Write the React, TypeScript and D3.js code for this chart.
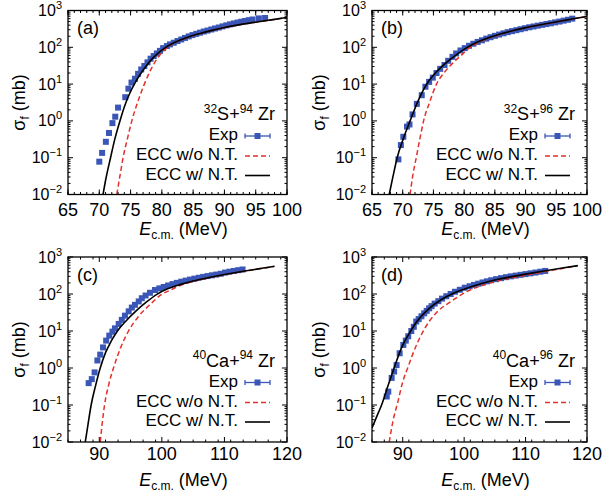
import React from "react";
import * as d3 from "d3";

type Pt = [number, number];

// measured fusion cross sections, [E c.m. (MeV), sigma (mb)]
const expA: Pt[] = [
  [70.0, 0.078], [70.45, 0.135], [71.05, 0.27], [71.55, 0.47], [72.1, 0.87], [72.55, 1.3],
  [73.0, 2.3], [74.15, 4.4], [74.65, 7.5], [75.15, 11], [75.7, 14], [76.2, 19], [76.7, 25],
  [77.2, 31], [77.7, 39], [78.2, 49], [78.7, 58], [79.2, 68], [79.7, 80], [80.2, 95],
  [80.8, 108], [81.3, 120], [81.9, 133], [82.5, 148], [83.1, 163], [83.7, 180], [84.3, 198],
  [84.9, 215], [85.5, 232], [86.1, 250], [86.7, 268], [87.3, 285], [87.9, 305], [88.5, 325],
  [89.1, 345], [89.7, 370], [90.3, 395], [90.9, 420], [91.5, 445], [92.1, 470], [92.7, 495],
  [93.3, 520], [93.9, 545], [94.5, 570], [95.5, 610], [96.5, 625],
];
const expB: Pt[] = [
  [69.3, 0.09], [69.7, 0.22], [70.1, 0.37], [70.7, 0.7], [71.1, 0.8], [71.6, 1.5], [72.3, 2.9],
  [73.1, 5], [73.7, 8.5], [74.3, 11.5], [74.9, 15], [75.5, 20], [76.1, 26], [76.8, 33],
  [77.4, 43], [78.1, 55], [78.7, 68], [79.4, 82], [80.1, 95], [80.8, 110], [81.5, 125],
  [82.2, 140], [82.9, 155], [83.6, 172], [84.3, 188], [85, 205], [85.7, 222], [86.4, 240],
  [87.1, 258], [87.8, 275], [88.5, 292], [89.2, 310], [89.9, 330], [90.6, 350], [91.3, 368],
  [92, 388], [92.7, 408], [93.4, 428], [94.1, 450], [94.8, 475], [95.5, 500], [96.2, 530],
  [96.9, 560], [97.6, 600],
];
const expC: Pt[] = [
  [88.3, 0.39], [88.8, 0.5], [89.25, 0.76], [89.7, 1.6], [90.15, 2.3], [90.6, 3.6], [91.1, 5.5],
  [91.6, 7.5], [92.1, 9.6], [92.5, 11.8], [93.1, 15.5], [93.6, 20], [94.1, 26], [94.7, 34],
  [95.2, 43], [95.7, 51], [96.3, 63], [96.8, 77], [97.4, 91], [98.1, 108], [98.9, 128],
  [99.6, 142], [100.3, 155], [101, 170], [101.7, 185], [102.4, 200], [103.1, 215], [103.8, 230],
  [104.5, 245], [105.2, 260], [105.9, 275], [106.6, 290], [107.3, 305], [108, 320],
  [108.7, 335], [109.4, 352], [110.1, 380], [110.8, 400], [111.5, 420], [112.2, 440], [112.9, 460],
];
const expD: Pt[] = [
  [87.4, 0.17], [87.65, 0.23], [88.2, 0.54], [88.6, 0.8], [89.0, 1.2], [89.5, 2.5], [90.1, 4.2],
  [90.5, 5.5], [90.9, 7.2], [91.4, 10], [91.8, 13], [92.2, 18], [92.6, 21], [93.05, 25],
  [93.5, 30], [93.9, 35], [94.3, 41], [94.7, 47], [95.2, 55], [95.8, 64], [96.4, 75],
  [97.1, 87], [97.8, 100], [98.5, 115], [99.3, 130], [100.1, 148], [100.9, 162], [101.6, 176],
  [102.3, 190], [103, 205], [103.7, 220], [104.4, 235], [105.2, 252], [106, 268], [106.8, 285],
  [107.6, 300], [108.4, 315], [109.2, 330], [110, 345], [110.8, 362], [111.6, 380],
  [112.4, 400], [113.2, 420],
];

// ECC w/ N.T.
const wA: Pt[] = [
  [70.6, 0.01], [71.0, 0.024], [71.8, 0.1], [72.5, 0.33], [73.3, 1.0], [74.0, 2.4], [74.8, 5.3],
  [75.6, 10], [76.5, 18], [77.5, 31], [78.5, 50], [79.5, 72], [80.5, 97], [82, 135], [84, 185],
  [86, 235], [88, 288], [90, 345], [92, 400], [94, 455], [96, 510], [98, 575], [100, 650],
];
const wB: Pt[] = [
  [67.8, 0.01], [68.4, 0.03], [69.1, 0.1], [70.1, 0.33], [71.2, 1], [72.4, 3.2], [73.9, 10],
  [75.3, 20], [76.8, 35], [78.4, 57], [80.3, 95], [82, 135], [84, 182], [86, 232], [88, 287],
  [90, 343], [92, 398], [94, 455], [96, 525], [98, 605], [100, 690],
];
const wC: Pt[] = [
  [87.76, 0.01], [88.2, 0.03], [88.7, 0.1], [89.4, 0.33], [90.15, 1], [91.0, 2.6], [91.9, 5.3],
  [92.9, 10], [94.3, 19], [95.8, 34], [97.5, 60], [99.2, 98], [101, 140], [103, 182],
  [105, 225], [107, 268], [110, 335], [113, 410], [116, 495], [118, 560],
];
const wD: Pt[] = [
  [85, 0.024], [85.8, 0.05], [86.56, 0.1], [87.6, 0.33], [88.6, 1], [89.8, 3.5], [91.3, 10],
  [92.3, 18], [94.1, 38], [96.3, 71], [98, 100], [100, 135], [102.3, 180], [105.5, 250],
  [108, 300], [110, 345], [113, 420], [116, 505], [118.5, 585],
];

// ECC w/o N.T.
const woA: Pt[] = [
  [72.8, 0.01], [73.3, 0.032], [73.8, 0.1], [74.5, 0.33], [75.2, 1], [76.2, 3.5], [77.2, 10],
  [78.2, 24], [79.2, 48], [80.0, 72], [80.8, 97], [82, 130], [84, 182], [86, 232], [88, 286],
  [90, 343], [92, 398], [94, 453], [96, 508], [98, 573], [100, 648],
];
const woB: Pt[] = [
  [71.2, 0.01], [71.6, 0.03], [72.2, 0.1], [72.8, 0.33], [73.4, 1], [74.4, 3.3], [75.5, 10],
  [76.8, 21], [78.2, 38], [79.5, 60], [80.8, 95], [82.2, 130], [84, 178], [86, 228], [88, 284],
  [90, 340], [92, 396], [94, 453], [96, 523], [98, 603], [100, 688],
];
const woC: Pt[] = [
  [90.15, 0.01], [90.45, 0.03], [90.84, 0.1], [91.5, 0.35], [92.27, 1], [93.4, 3.5],
  [94.67, 10], [96.2, 24], [98, 50], [100, 98], [101.5, 130], [103, 172], [105, 218],
  [107, 263], [110, 332], [113, 408], [116, 493], [118, 558],
];
const woD: Pt[] = [
  [87.8, 0.01], [88.4, 0.036], [89.2, 0.12], [90.0, 0.42], [90.9, 1.1], [91.8, 2.8],
  [92.9, 7.2], [94.3, 18], [95.7, 34], [97.8, 62], [100.5, 118], [103.3, 178], [106, 238],
  [108, 280], [110, 322], [113, 400], [116, 492], [118.5, 578],
];

const ticksS = [65, 70, 75, 80, 85, 90, 95, 100];
const ticksCa = [90, 100, 110, 120];
const yDecades = [-2, -1, 0, 1, 2, 3];
const yExpLabels = ["\u22122", "\u22121", "0", "1", "2", "3"];
const legendLabels = ["Exp", "ECC w/o N.T.", "ECC w/ N.T."];

const panels = [
  { tag: "(a)", col: 0, row: 0, dom: [65, 100], ticks: ticksS, minor: 1, proj: ["32", "S"], targ: ["94", "Zr"], exp: expA, wo: woA, w: wA },
  { tag: "(b)", col: 1, row: 0, dom: [65, 100], ticks: ticksS, minor: 1, proj: ["32", "S"], targ: ["96", "Zr"], exp: expB, wo: woB, w: wB },
  { tag: "(c)", col: 0, row: 1, dom: [85, 120], ticks: ticksCa, minor: 2, proj: ["40", "Ca"], targ: ["94", "Zr"], exp: expC, wo: woC, w: wC },
  { tag: "(d)", col: 1, row: 1, dom: [85, 120], ticks: ticksCa, minor: 2, proj: ["40", "Ca"], targ: ["96", "Zr"], exp: expD, wo: woD, w: wD },
];

const COL_L = [68, 372];
const COL_R = [287, 587];
const ROW_T = [10.5, 257];
const ROW_B = [194.5, 442];
const TICK_DY = [21.5, 17.5];
const XLAB_DY = [40, 44];

const BLUE = "#3a57b7";
const RED = "#e3312b";
const FONT = "'Liberation Sans', Arial, Helvetica, sans-serif";

function Panel({ p }: { p: (typeof panels)[number] }) {
  const left = COL_L[p.col], right = COL_R[p.col];
  const top = ROW_T[p.row], bottom = ROW_B[p.row];
  const x = d3.scaleLinear().domain(p.dom).range([left, right]);
  const y = d3.scaleLog().domain([1e-2, 1e3]).range([bottom, top]);
  const line = d3.line<Pt>().x(d => x(d[0])).y(d => y(d[1])).curve(d3.curveMonotoneX);
  const clipId = "clip" + p.col + p.row;

  const xMinor = d3.range(p.dom[0], p.dom[1] + 0.001, p.minor);
  const yMinor: number[] = [];
  yDecades.slice(0, -1).forEach(dd => {
    for (let m = 2; m <= 9; m++) yMinor.push(m * Math.pow(10, dd));
  });

  const legX = right - 49;
  const s1 = right - 42, s2 = right - 17;
  const rowsY = [top + 129.5, top + 149.5, top + 169];

  return (
    <g>
      <clipPath id={clipId}>
        <rect x={left} y={top} width={right - left} height={bottom - top} />
      </clipPath>
      <g clipPath={`url(#${clipId})`}>
        {p.exp.map((d, i) => (
          <rect key={i} x={x(d[0]) - 3} y={y(d[1]) - 3} width={6} height={6} fill={BLUE} />
        ))}
        <path d={line(p.wo) || ""} fill="none" stroke={RED} strokeWidth={1.5} strokeDasharray="5,3" />
        <path d={line(p.w) || ""} fill="none" stroke="#000" strokeWidth={1.6} />
      </g>

      {/* ticks, inward on all sides */}
      <g stroke="#000" strokeWidth={1}>
        {xMinor.map(t => (
          <g key={"xm" + t}>
            <line x1={x(t)} x2={x(t)} y1={bottom} y2={bottom - 2.5} />
            <line x1={x(t)} x2={x(t)} y1={top} y2={top + 2.5} />
          </g>
        ))}
        {p.ticks.map(t => (
          <g key={"xM" + t}>
            <line x1={x(t)} x2={x(t)} y1={bottom} y2={bottom - 5} />
            <line x1={x(t)} x2={x(t)} y1={top} y2={top + 5} />
          </g>
        ))}
        {yMinor.map(v => (
          <g key={"ym" + v}>
            <line x1={left} x2={left + 2.5} y1={y(v)} y2={y(v)} />
            <line x1={right} x2={right - 2.5} y1={y(v)} y2={y(v)} />
          </g>
        ))}
        {yDecades.map(dd => (
          <g key={"yM" + dd}>
            <line x1={left} x2={left + 5} y1={y(Math.pow(10, dd))} y2={y(Math.pow(10, dd))} />
            <line x1={right} x2={right - 5} y1={y(Math.pow(10, dd))} y2={y(Math.pow(10, dd))} />
          </g>
        ))}
      </g>
      <rect x={left} y={top} width={right - left} height={bottom - top} fill="none" stroke="#000" strokeWidth={1.3} />

      {/* tick labels */}
      {p.ticks.map(t => (
        <text key={"xl" + t} x={x(t)} y={bottom + TICK_DY[p.row]} fontSize={18} textAnchor="middle">{t}</text>
      ))}
      {yDecades.map((dd, i) => (
        <text key={"yl" + dd} x={left - 6} y={y(Math.pow(10, dd)) + 5.5} fontSize={16} textAnchor="end">
          10<tspan fontSize={11} dy={-7}>{yExpLabels[i]}</tspan>
        </text>
      ))}

      {/* axis titles */}
      <text x={(left + right) / 2 + 6} y={bottom + XLAB_DY[p.row]} fontSize={18} textAnchor="middle">
        <tspan fontStyle="italic">E</tspan>
        <tspan fontSize={12} dy={4}>c.m.</tspan>
        <tspan dy={-4}> (MeV)</tspan>
      </text>
      <text transform={`translate(${25 + p.col * 300},${(top + bottom) / 2}) rotate(-90)`} fontSize={18} textAnchor="middle">
        σ<tspan fontSize={12} dy={4}>f</tspan>
        <tspan dy={-4}> (mb)</tspan>
      </text>

      <text x={left + 9} y={top + 23.5} fontSize={18}>{p.tag}</text>

      {/* legend */}
      <text x={right - 12} y={top + 109.5} fontSize={18} textAnchor="end">
        <tspan fontSize={12} dy={-7.5}>{p.proj[0]}</tspan>
        <tspan dy={7.5}>{p.proj[1]}+</tspan>
        <tspan fontSize={12} dy={-7.5}>{p.targ[0]}</tspan>
        <tspan dy={7.5}>{" " + p.targ[1]}</tspan>
      </text>
      {legendLabels.map((lab, i) => (
        <text key={lab} x={legX} y={rowsY[i]} fontSize={17} textAnchor="end">{lab}</text>
      ))}
      <g stroke={BLUE} strokeWidth={1.3}>
        <line x1={s1} x2={s2} y1={rowsY[0] - 4} y2={rowsY[0] - 4} />
        <line x1={s1} x2={s1} y1={rowsY[0] - 6.5} y2={rowsY[0] - 1.5} />
        <line x1={s2} x2={s2} y1={rowsY[0] - 6.5} y2={rowsY[0] - 1.5} />
      </g>
      <rect x={(s1 + s2) / 2 - 3} y={rowsY[0] - 7} width={6} height={6} fill={BLUE} />
      <line x1={s1} x2={s2} y1={rowsY[1] - 4} y2={rowsY[1] - 4} stroke={RED} strokeWidth={1.5} strokeDasharray="5,3" />
      <line x1={s1} x2={s2} y1={rowsY[2] - 4} y2={rowsY[2] - 4} stroke="#000" strokeWidth={1.6} />
    </g>
  );
}

export default function App() {
  return (
    <svg
      width={609}
      height={494}
      style={{ position: "absolute", left: 0, top: 0, background: "#fff" }}
      fontFamily={FONT}
      fill="#000"
    >
      {panels.map(p => (
        <Panel key={p.tag} p={p} />
      ))}
    </svg>
  );
}
